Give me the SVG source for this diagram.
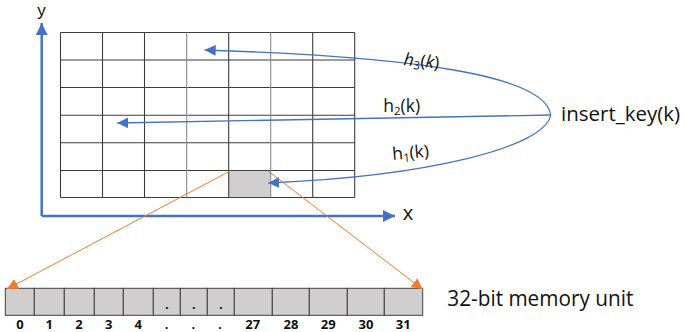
<svg xmlns="http://www.w3.org/2000/svg" width="685" height="332" viewBox="0 0 685 332">
<style>
  .grid line { stroke: #3c3c3c; stroke-width: 1.1; }
  .blue { stroke: #4472c4; fill: none; stroke-width: 1.3; }
  .axis { stroke: #4472c4; fill: none; stroke-width: 2.5; }
  .orange { stroke: #ed7d31; fill: none; stroke-width: 1; }
  .cell { fill: #d0cece; stroke: #404040; stroke-width: 1; }
  .t { font-family: "Open Sans", "Liberation Sans", sans-serif; fill: #111; }
  .num { font-family: "Open Sans", "Liberation Sans", sans-serif; font-weight: bold; font-size: 13px; fill: #111; text-anchor: middle; }
</style>
<defs>
  <marker id="ab" viewBox="0 0 10 10" refX="10" refY="5" markerWidth="11" markerHeight="11" markerUnits="userSpaceOnUse" orient="auto">
    <path d="M0,0 L10,5 L0,10 Z" fill="#4472c4"/>
  </marker>
  <marker id="aax" viewBox="0 0 10 10" refX="10" refY="5" markerWidth="12" markerHeight="12" markerUnits="userSpaceOnUse" orient="auto">
    <path d="M0,0 L10,5 L0,10 Z" fill="#4472c4"/>
  </marker>
  <marker id="ao" viewBox="0 0 10 10" refX="10" refY="5" markerWidth="11" markerHeight="11" markerUnits="userSpaceOnUse" orient="auto">
    <path d="M0,0 L10,5 L0,10 Z" fill="#ed7d31"/>
  </marker>
</defs>

<g id="hash-table">
  <rect x="228.7" y="170.5" width="42" height="27" fill="#d0cece"/>
  <g class="grid">
    <line x1="60.5" y1="32.5" x2="354.7" y2="32.5"/>
    <line x1="60.5" y1="60" x2="354.7" y2="60"/>
    <line x1="60.5" y1="87.5" x2="354.7" y2="87.5"/>
    <line x1="60.5" y1="115.2" x2="354.7" y2="115.2"/>
    <line x1="60.5" y1="142.7" x2="354.7" y2="142.7"/>
    <line x1="60.5" y1="170.5" x2="354.7" y2="170.5"/>
    <line x1="60.5" y1="197.5" x2="354.7" y2="197.5"/>
    <line x1="60.5" y1="32.5" x2="60.5" y2="197.5"/>
    <line x1="102.5" y1="32.5" x2="102.5" y2="197.5"/>
    <line x1="144.5" y1="32.5" x2="144.5" y2="197.5"/>
    <line x1="186.7" y1="32.5" x2="186.7" y2="197.5" style="stroke:#8a8a8a"/>
    <line x1="228.7" y1="32.5" x2="228.7" y2="197.5"/>
    <line x1="270.7" y1="32.5" x2="270.7" y2="197.5" style="stroke:#8a8a8a"/>
    <line x1="312.7" y1="32.5" x2="312.7" y2="197.5"/>
    <line x1="354.7" y1="32.5" x2="354.7" y2="197.5"/>
  </g>
</g>

<g id="axes">
  <path class="axis" d="M41.7,216 L41.7,23" marker-end="url(#aax)"/>
  <path class="axis" d="M41.7,216 L395,216" marker-end="url(#aax)"/>
  <text x="41.5" y="16" font-size="17" text-anchor="middle" font-family="'Liberation Sans', sans-serif" fill="#111">y</text>
  <text class="t" x="408" y="219.5" font-size="20" text-anchor="middle">x</text>
</g>

<g id="insert-key">
  <text class="t" x="561" y="120.7" font-size="20.5">insert_key(k)</text>
</g>

<g id="memory-unit">
  <rect class="cell" x="5.3" y="288.3" width="29" height="27"/>
  <rect class="cell" x="34.3" y="288.3" width="30" height="27"/>
  <rect class="cell" x="64.3" y="288.3" width="30" height="27"/>
  <rect class="cell" x="94.3" y="288.3" width="29" height="27"/>
  <rect class="cell" x="123.3" y="288.3" width="30" height="27"/>
  <rect class="cell" x="153.3" y="288.3" width="27" height="27"/>
  <rect class="cell" x="180.3" y="288.3" width="27" height="27"/>
  <rect class="cell" x="207.3" y="288.3" width="27" height="27"/>
  <rect class="cell" x="234.3" y="288.3" width="38" height="27"/>
  <rect class="cell" x="272.3" y="288.3" width="37" height="27"/>
  <rect class="cell" x="309.3" y="288.3" width="38" height="27"/>
  <rect class="cell" x="347.3" y="288.3" width="37" height="27"/>
  <rect class="cell" x="384.3" y="288.3" width="38.4" height="27"/>
  <text class="num" x="166.8" y="309">.</text>
  <text class="num" x="193.8" y="309">.</text>
  <text class="num" x="220.8" y="309">.</text>
  <text class="num" x="20" y="328.5">0</text>
  <text class="num" x="49.3" y="328.5">1</text>
  <text class="num" x="79" y="328.5">2</text>
  <text class="num" x="108.7" y="328.5">3</text>
  <text class="num" x="138.3" y="328.5">4</text>
  <text class="num" x="166.7" y="328.5">.</text>
  <text class="num" x="193.3" y="328.5">.</text>
  <text class="num" x="220" y="328.5">.</text>
  <text class="num" x="252.7" y="328.5">27</text>
  <text class="num" x="291" y="328.5">28</text>
  <text class="num" x="328.3" y="328.5">29</text>
  <text class="num" x="366" y="328.5">30</text>
  <text class="num" x="403.3" y="328.5">31</text>
  <text class="t" x="447.3" y="306" font-size="21" textLength="186" lengthAdjust="spacingAndGlyphs">32-bit memory unit</text>
</g>

<g id="connectors">
  <path class="blue" d="M550.7,115 C546,76 420,57 204.7,50" marker-end="url(#ab)"/>
  <path class="blue" d="M550.7,115 L117.3,123" marker-end="url(#ab)"/>
  <path class="blue" d="M550.7,115 C545,147 430,176 268.3,183" marker-end="url(#ab)"/>
  <path class="orange" d="M230.7,170.7 L7,289" marker-end="url(#ao)"/>
  <path class="orange" d="M267.7,170.7 L422.7,289.3" marker-end="url(#ao)"/>
  <text class="t" x="403.3" y="65" font-size="17.5" transform="rotate(6 403.3 65)"><tspan font-style="italic">h</tspan><tspan font-size="11.5" dy="3">3</tspan><tspan dy="-3">(</tspan><tspan font-style="italic">k</tspan>)</text>
  <text class="t" x="383.3" y="111.7" font-size="17.5">h<tspan font-size="11.5" dy="3">2</tspan><tspan dy="-3">(k)</tspan></text>
  <text class="t" x="392.7" y="160" font-size="17.5" transform="rotate(-5 392.7 160)">h<tspan font-size="11.5" dy="3">1</tspan><tspan dy="-3">(k)</tspan></text>
</g>
</svg>
